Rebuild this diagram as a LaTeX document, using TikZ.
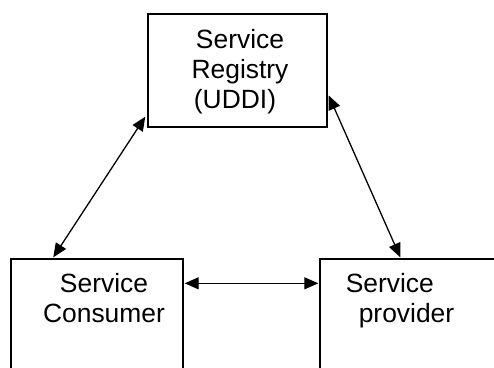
\documentclass[tikz,border=0pt]{standalone}
\usepackage{fontspec}
\setmainfont{Liberation Sans}
\usetikzlibrary{arrows.meta,calc}

\begin{document}
\begin{tikzpicture}[x=1pt,y=-1pt,
  box/.style={draw=black, line width=1.4pt, rectangle, inner sep=0pt},
  lbl/.style={font=\fontsize{26.4}{30}\selectfont, align=center, inner sep=0pt, anchor=north},
  link/.style={line width=1.3pt, {Triangle[length=14pt,width=12pt]}-{Triangle[length=14pt,width=12pt]}}]
  \useasboundingbox (0,0) rectangle (494,367);
  \clip (0,0) rectangle (494,367);

  % the three parties; the lower two run past the edge of the page
  \node[box, minimum width=179pt, minimum height=113pt] (reg) at (237.5,70.5) {};
  \node[box, minimum width=172pt, minimum height=161pt] (con) at (97,339.5) {};
  \node[box, minimum width=240pt, minimum height=161pt] (prov) at (440,339.5) {};

  % labels
  \node[lbl] (regtxt) at (240,29) {Service\\Registry\\(UDDI)\hspace*{10pt}};
  \node[lbl] (contxt) at (104,273) {Service\\Consumer};
  \node[lbl, align=left] (provtxt) at (400,273) {Service\\\hspace*{13pt}provider};

  % two-way links
  \draw[link] ($(con.north west)+(43,-1)$) -- ($(reg.south west)+(-2,-11)$);
  \draw[link] ($(reg.east)+(1,25)$) -- ($(prov.north west)+(81,-1)$);
  \draw[link] ($(con.north east)+(1,25)$) -- ($(prov.north west)+(-1,25)$);
\end{tikzpicture}
\end{document}
